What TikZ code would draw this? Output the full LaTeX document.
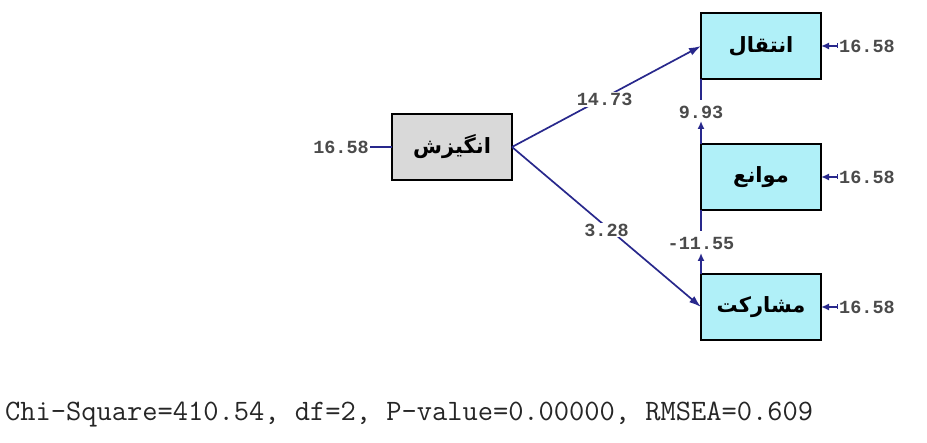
\documentclass[tikz,border=0pt]{standalone}
\usepackage{fontspec}
\newfontfamily\numfont{Liberation Mono}
\newfontfamily\fa[Script=Arabic]{DejaVu Sans}
\TeXXeTstate=1
\usetikzlibrary{arrows.meta}
\definecolor{navy}{RGB}{40,40,140}
\definecolor{boxcyan}{RGB}{176,240,248}
\definecolor{boxgray}{RGB}{217,217,217}
\definecolor{numgray}{RGB}{75,75,75}
\begin{document}
\begin{tikzpicture}[x=1pt,y=-1pt,
  varbox/.style={draw=black, line width=2.2pt, minimum width=120pt, minimum height=66pt, inner sep=0pt, outer sep=0pt,
    font=\fa\bfseries\fontsize{21}{24}\selectfont},
  link/.style={draw=navy, line width=1.7pt},
  mainarrow/.style={link, -{Latex[length=12pt,width=8pt]}},
  smallarrow/.style={link, -{Latex[length=8pt,width=7pt]}},
  errarrow/.style={link, {Latex[length=8pt,width=7pt]}-{Bar[width=5pt,line width=1.4pt]}},
  numlbl/.style={text=numgray, font=\numfont\bfseries\fontsize{18.5}{20}\selectfont, inner sep=1pt},
  stat/.style={text=black!85, font=\ttfamily\fontsize{29.6}{32}\selectfont, inner sep=0pt}
]
\useasboundingbox (0,0) rectangle (927,443);
\fill[white] (0,0) rectangle (927,443);

% boxes
\node[varbox, fill=boxgray] (motiv) at (452,147) {\beginR انگیزش\endR};
\node[varbox, fill=boxcyan] (enteqal) at (761,46) {\beginR انتقال\endR};
\node[varbox, fill=boxcyan] (mavane) at (761,177) {\beginR موانع\endR};
\node[varbox, fill=boxcyan] (mosh) at (761,307) {\beginR مشارکت\endR};

% paths
\draw[mainarrow] (motiv.east) -- node[numlbl, fill=white, pos=0.49, yshift=-2pt] {14.73} (enteqal.west);
\draw[mainarrow] (motiv.east) -- node[numlbl, fill=white, pos=0.5, yshift=-3pt] {3.28} (mosh.west);

% covariances
\coordinate (c1a) at (701,100);
\coordinate (c1b) at (701,121);
\node[numlbl] (l1) at (701,112) {9.93};
\draw[link] (enteqal.south west) -- (c1a);
\draw[smallarrow] (mavane.north west) -- (c1b);

\coordinate (c2a) at (701,231);
\coordinate (c2b) at (701,253);
\node[numlbl] (l2) at (701,243) {-11.55};
\draw[link] (mavane.south west) -- (c2a);
\draw[smallarrow] (mosh.north west) -- (c2b);

% errors
\coordinate (e0) at (370,147);
\node[numlbl, anchor=east] (n0) at (e0) {16.58};
\draw[link] (motiv.west) -- (e0);

\coordinate (e1) at (838,46);
\node[numlbl, anchor=west] (n1) at (e1) {16.58};
\draw[errarrow] (enteqal.east) -- (e1);

\coordinate (e2) at (838,177);
\node[numlbl, anchor=west] (n2) at (e2) {16.58};
\draw[errarrow] (mavane.east) -- (e2);

\coordinate (e3) at (838,307);
\node[numlbl, anchor=west] (n3) at (e3) {16.58};
\draw[errarrow] (mosh.east) -- (e3);

% fit statistics
\node[stat, anchor=base west] (fit) at (5,421) {Chi-Square=410.54, df=2, P-value=0.00000, RMSEA=0.609};
\end{tikzpicture}
\end{document}
